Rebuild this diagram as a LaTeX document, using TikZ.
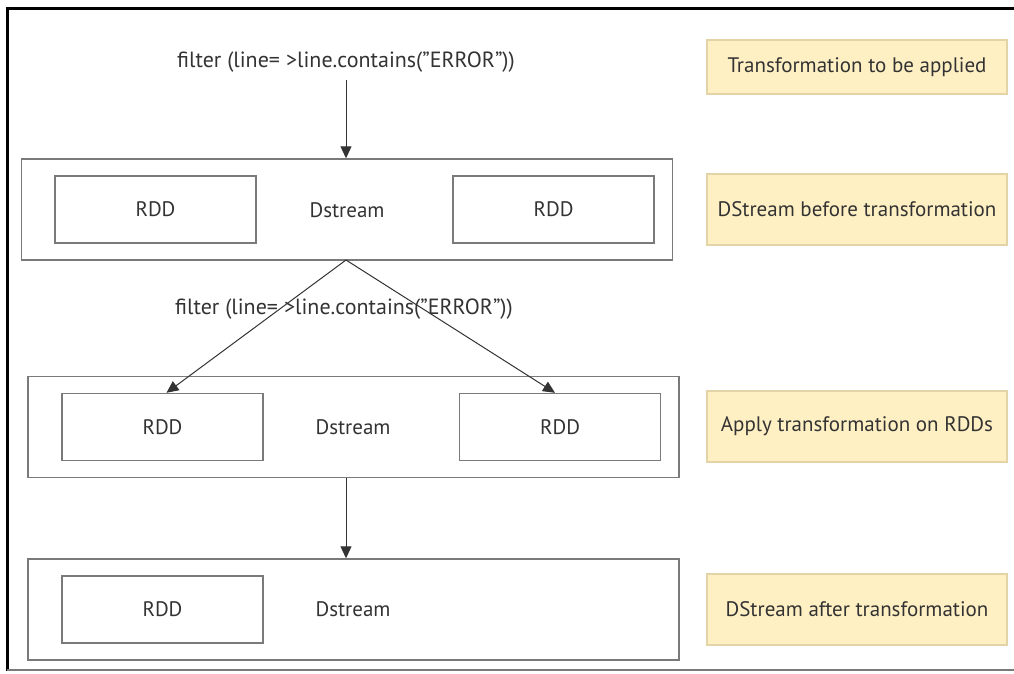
\documentclass[tikz,border=0pt]{standalone}
\usepackage{fontspec}
\setmainfont{PT Sans}
\usetikzlibrary{arrows.meta}
\definecolor{lineg}{HTML}{7A7A7A}
\definecolor{noteyel}{HTML}{FFF0C4}
\definecolor{notebord}{HTML}{E2D4A6}
\definecolor{txt}{HTML}{333333}
\tikzset{
  outerbox/.style={draw=lineg, line width=1.4pt, minimum width=651pt, minimum height=101pt, inner sep=0pt},
  rddbox/.style={draw=lineg, line width=1.4pt, minimum width=201pt, minimum height=67pt, inner sep=0pt, font=\fontsize{21}{24}\selectfont, text=txt},
  lbl/.style={font=\fontsize{21}{24}\selectfont, text=txt, inner sep=0pt},
  filt/.style={font=\fontsize{22}{25}\selectfont, text=txt, inner sep=0pt},
  note/.style={draw=notebord, line width=1.2pt, fill=noteyel, minimum width=300pt, inner sep=0pt, font=\fontsize{21}{24}\selectfont, text=txt},
  arr/.style={draw=txt, line width=1pt, -{Triangle[width=11pt,length=12pt]}},
}
\begin{document}
\begin{tikzpicture}[x=1pt,y=-1pt]
\useasboundingbox (0,0) rectangle (1014,673);
% frame
\draw[line width=3pt, black] (7,671) -- (7,8) -- (1014,8);
\draw[line width=1.2pt, lineg] (7,670) -- (1014,670);
% top label
\node[filt] (f1) at (346,62) {filter (line=\hspace{6pt}>line.contains(”ERROR”))};
% Dstream 1
\node[outerbox] (d1) at (347,209.5) {};
\node[rddbox] (r1a) at (155.5,209.5) {RDD};
\node[rddbox] (r1b) at (553.5,209.5) {RDD};
\node[lbl] (d1t) at (347,210) {Dstream};
% Dstream 2
\node[outerbox] (d2) at (353.5,427) {};
\node[rddbox] (r2a) at (162.5,427) {RDD};
\node[rddbox] (r2b) at (560,427) {RDD};
\node[lbl] (d2t) at (353,427) {Dstream};
% Dstream 3
\node[outerbox] (d3) at (353.5,609.5) {};
\node[rddbox] (r3a) at (162.5,609.5) {RDD};
\node[lbl] (d3t) at (353,609) {Dstream};
% middle label
\node[filt] (f2) at (344,309) {filter (line=\hspace{6pt}>line.contains(”ERROR”))};
% connectors
\coordinate (apex) at (346,260);
\draw[arr] (f1.south -| apex) ++(0,8) -- (d1.north -| apex);
\draw[arr] (apex) -- ([xshift=4pt]r2a.north);
\draw[arr] (apex) -- ([xshift=-5pt]r2b.north);
\draw[arr] (d2.south -| apex) -- (d3.north -| apex);
% notes
\node[note, minimum height=54pt] (n1) at (857,67) {Transformation to be applied};
\node[note, minimum height=71pt] (n2) at (857,209.5) {DStream before transformation};
\node[note, minimum height=71pt] (n3) at (857,426.5) {Apply transformation on RDDs};
\node[note, minimum height=71pt] (n4) at (857,609.5) {DStream after transformation};
\end{tikzpicture}
\end{document}
